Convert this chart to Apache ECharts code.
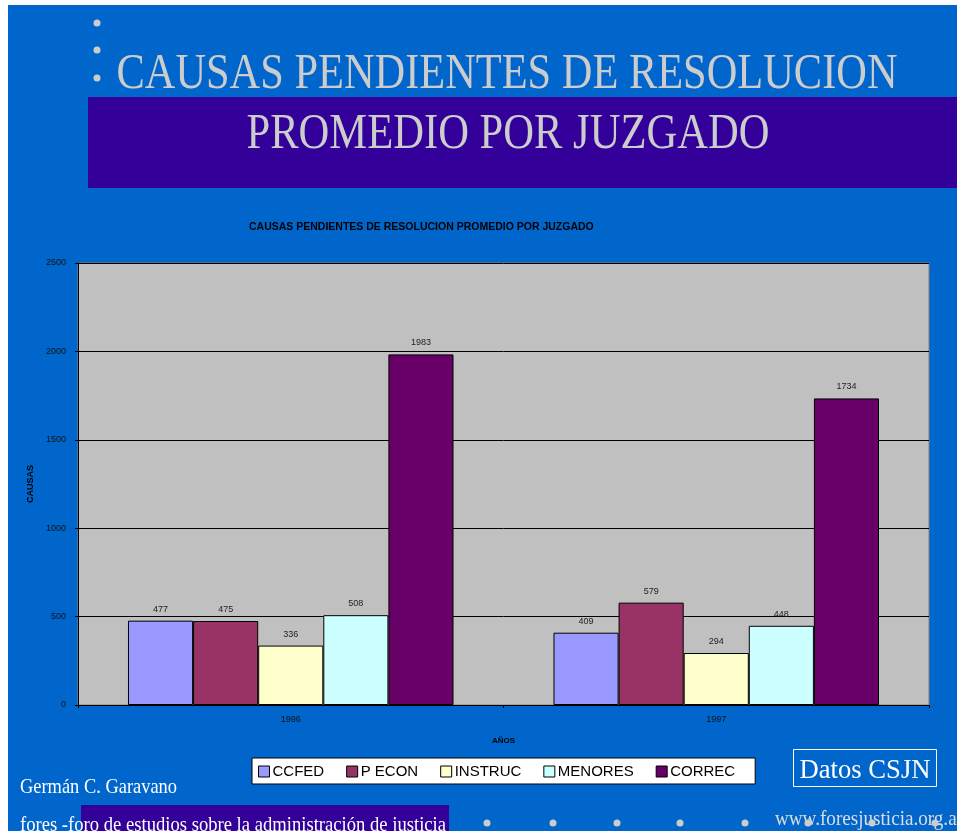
<!DOCTYPE html>
<html>
<head>
<meta charset="utf-8">
<script src="https://cdn.jsdelivr.net/npm/echarts@6/dist/echarts.min.js"></script>
<style>
  html, body { margin: 0; padding: 0; background: #fff; }
  #chart { width: 957px; height: 831px; }
</style>
</head>
<body>
<div id="chart"></div>
<script>
// datos del grafico
const years = ["1996", "1997"];
const seriesNames = ["CCFED", "P ECON", "INSTRUC", "MENORES", "CORREC"];
const ccfed = [477, 409];
const pEcon = [475, 579];
const instruc = [336, 294];
const menores = [508, 448];
const correc = [1983, 1734];
const yTicks = [0, 500, 1000, 1500, 2000, 2500];

const colors = ["#9999FF", "#993366", "#FFFFCC", "#CCFFFF", "#660066"];
const SERIF = "'Liberation Serif', 'DejaVu Serif', serif";
const SANS = "'Liberation Sans', Arial, sans-serif";

// medir texto para comprimirlo horizontalmente como en la diapositiva
const ctx = document.createElement("canvas").getContext("2d");
function fit(text, size, target, family) {
  ctx.font = size + "px " + (family || SERIF);
  return target / ctx.measureText(text).width;
}

// y = linea base del texto
function slideText(text, x, y, size, target, color, align) {
  return {
    type: "text",
    x: x,
    y: y - Math.round(size * 0.79),
    scaleX: fit(text, size, target),
    z: 100,
    style: {
      x: 0,
      y: 0,
      text: text,
      fill: color,
      font: size + "px " + SERIF,
      align: align || "left",
      verticalAlign: "top",
    },
  };
}

const chart = echarts.init(document.getElementById("chart"));

const allData = [ccfed, pEcon, instruc, menores, correc];

const bullets = [];
[23, 50, 78].forEach((y) => {
  bullets.push({ type: "circle", shape: { cx: 97, cy: y, r: 3.5 }, style: { fill: "#CCCCCC" }, z: 100 });
});
[487, 553, 617, 680, 745, 808, 872, 935].forEach((x) => {
  bullets.push({ type: "circle", shape: { cx: x, cy: 823, r: 3.5 }, style: { fill: "#CCCCCC" }, z: 100 });
});

const option = {
  backgroundColor: "#FFFFFF",
  animation: false,
  color: colors,
  title: {
    text: "CAUSAS PENDIENTES DE RESOLUCION PROMEDIO POR JUZGADO",
    left: 244,
    top: 217,
    textStyle: { fontFamily: SANS, fontSize: 10.5, fontWeight: "bold", color: "#000" },
  },
  legend: {
    data: seriesNames,
    left: 252,
    top: 758,
    width: 503,
    padding: [6, 20, 5, 6],
    itemGap: 22,
    itemWidth: 11,
    itemHeight: 11,
    backgroundColor: "#FFFFFF",
    borderColor: "#000",
    borderWidth: 1,
    icon: "rect",
    itemStyle: { borderColor: "#000", borderWidth: 1 },
    textStyle: { fontFamily: SANS, fontSize: 15, color: "#000", padding: [0, 0, 0, -2] },
  },
  grid: {
    left: 78,
    right: 28,
    top: 263,
    bottom: 126,
    containLabel: false,
    show: true,
    backgroundColor: "#C0C0C0",
    borderColor: "#808080",
    borderWidth: 1,
  },
  xAxis: {
    type: "category",
    data: years,
    name: "AÑOS",
    nameLocation: "middle",
    nameGap: 32,
    nameTextStyle: { fontFamily: SANS, fontSize: 8, fontWeight: "bold", color: "#000" },
    axisLine: { lineStyle: { color: "#000", width: 1 } },
    axisTick: { show: true, length: 3, lineStyle: { color: "#000" } },
    axisLabel: { fontFamily: SANS, fontSize: 9, color: "#111", margin: 10 },
  },
  yAxis: {
    type: "value",
    min: yTicks[0],
    max: yTicks[yTicks.length - 1],
    interval: 500,
    name: "CAUSAS",
    nameLocation: "middle",
    nameRotate: 90,
    nameGap: 40,
    nameTextStyle: { fontFamily: SANS, fontSize: 9, fontWeight: "bold", color: "#000" },
    axisLine: { show: true, lineStyle: { color: "#000", width: 1 } },
    axisTick: { show: true, length: 3, lineStyle: { color: "#000" } },
    axisLabel: {
      fontFamily: SANS,
      fontSize: 9,
      color: "#111",
      margin: 12,
      formatter: (v) => String(v),
    },
    splitLine: { show: true, lineStyle: { color: "#000", width: 1 } },
  },
  series: seriesNames.map((name, i) => ({
    name: name,
    type: "bar",
    data: allData[i],
    barGap: "0%",
    barCategoryGap: "23.5%",
    itemStyle: { color: colors[i], borderColor: "#000", borderWidth: 1 },
    label: {
      show: true,
      position: "top",
      distance: 7,
      fontFamily: SANS,
      fontSize: 9,
      color: "#222",
    },
  })),
  graphic: [
    // fondo de la diapositiva
    { type: "rect", shape: { x: 8, y: 5, width: 949, height: 826 }, style: { fill: "#0066CC" }, z: -10 },
    { type: "rect", shape: { x: 88, y: 97, width: 869, height: 91 }, style: { fill: "#330099" }, z: -9 },
    { type: "rect", shape: { x: 81, y: 805, width: 368, height: 26 }, style: { fill: "#330099" }, z: -9 },
    slideText("CAUSAS PENDIENTES DE RESOLUCION", 507, 89, 51, 781, "#CCCCCC", "center"),
    slideText("PROMEDIO POR JUZGADO", 508, 149, 51, 523, "#CCCCCC", "center"),
    slideText("Germán C. Garavano", 20, 794, 21, 157, "#FFFFFF"),
    slideText("fores -foro de estudios sobre la administración de justicia", 20, 832, 21, 426, "#FFFFFF"),
    slideText("www.foresjusticia.org.ar", 775, 826, 21, 188, "#DDDDDD"),
    // recuadro "Datos CSJN"
    { type: "rect", shape: { x: 793.5, y: 749.5, width: 143, height: 37 }, style: { fill: "none", stroke: "#FFFFFF", lineWidth: 1 }, z: 100 },
    slideText("Datos CSJN", 865, 779, 28, 131, "#FFFFFF", "center"),
  ].concat(bullets),
};

chart.setOption(option);
</script>
</body>
</html>
